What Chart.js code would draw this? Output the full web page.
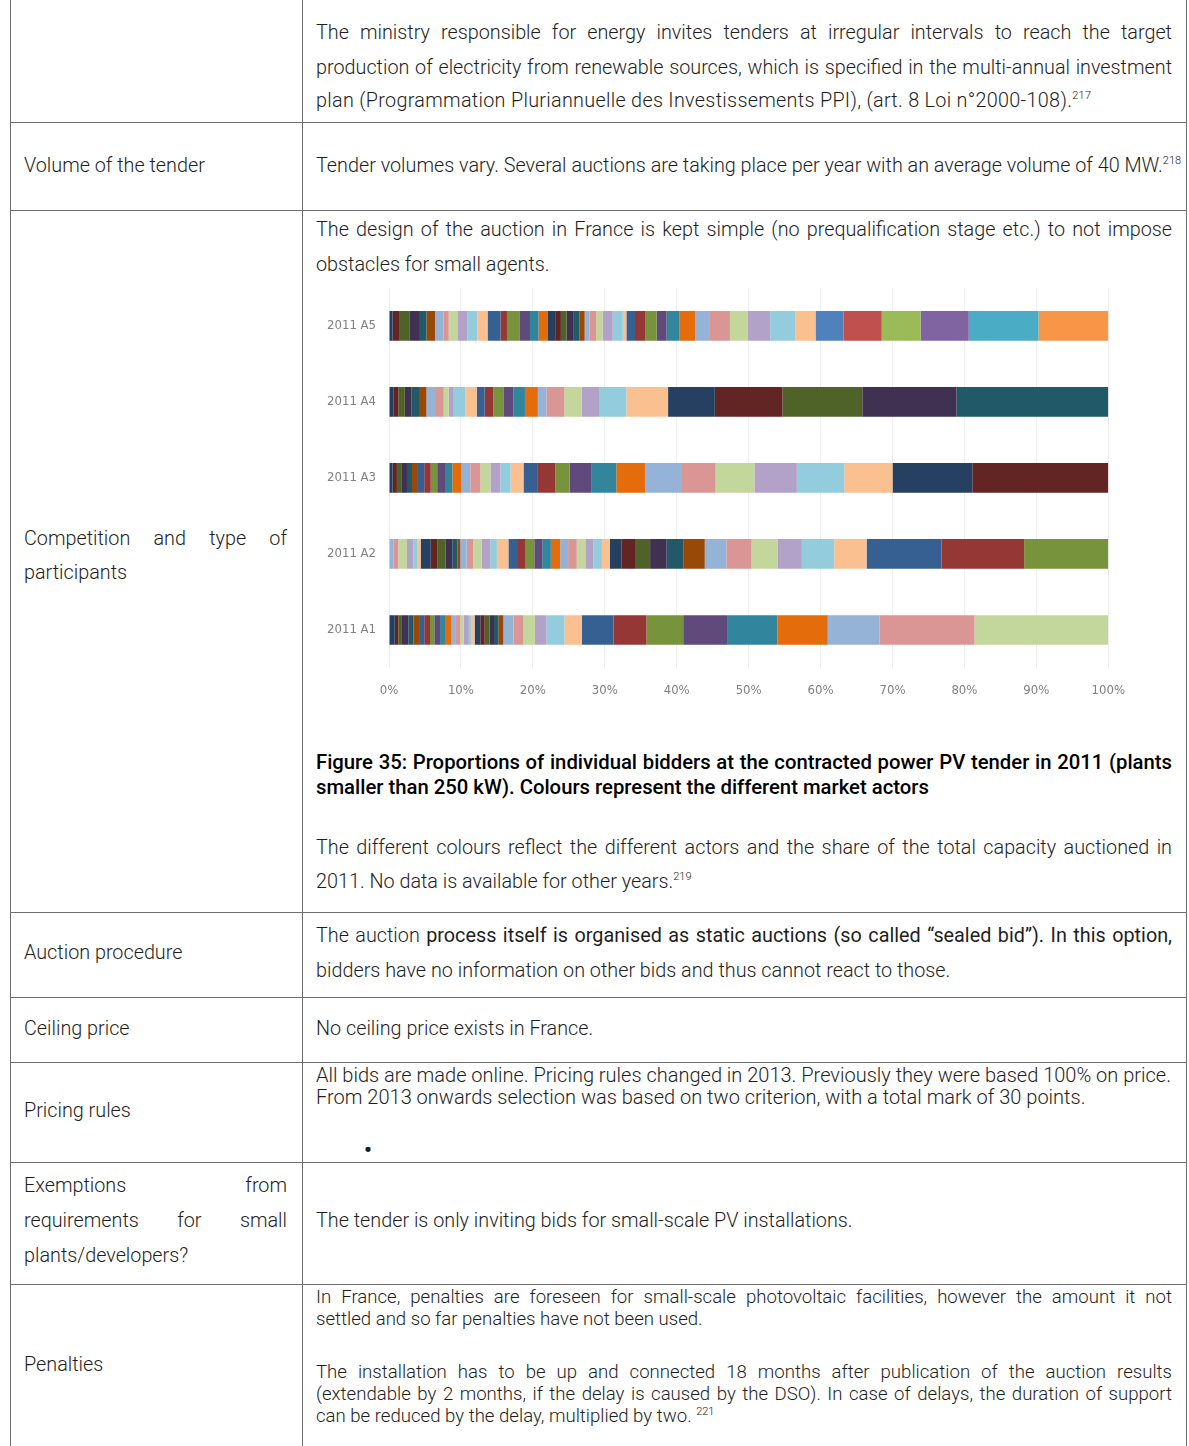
<!DOCTYPE html>
<html>
<head>
<meta charset="utf-8">
<script src="https://cdn.jsdelivr.net/npm/chart.js@4.4.1/dist/chart.umd.min.js"></script>
<style>
  body { margin: 0; width: 1189px; height: 1446px; overflow: hidden; background: #fff;
         font-family: Roboto, "Open Sans", sans-serif; font-weight: 300; color: #1e1e1e; }
  .hl { position: absolute; left: 10px; width: 1176px; height: 1px; background: #6e6e6e; }
  .vl { position: absolute; top: 0; width: 1px; height: 1446px; background: #6e6e6e; }
  .ln { position: absolute; left: 316px; width: 856px; height: 26px; line-height: 26px;
        font-size: 19.8px; white-space: nowrap; }
  .j { white-space: normal; text-align: justify; text-align-last: justify; }
  .sm { font-size: 18.6px; }
  .pr { font-size: 20px; }
  .lab { position: absolute; left: 24px; width: 263px; height: 26px; line-height: 26px;
         font-size: 19.8px; white-space: nowrap; }
  .cap { font-weight: 500; font-size: 20.3px; color: #000; }
  sup { font-size: 11px; line-height: 0; }
  #chartBox { position: absolute; left: 320px; top: 267px; width: 820px; height: 443px; }
</style>
</head>
<body>
<div class="vl" style="left:10px"></div>
<div class="vl" style="left:302px"></div>
<div class="vl" style="left:1186px"></div>
<div class="hl" style="top:122px"></div>
<div class="hl" style="top:210px"></div>
<div class="hl" style="top:912px"></div>
<div class="hl" style="top:997px"></div>
<div class="hl" style="top:1062px"></div>
<div class="hl" style="top:1162px"></div>
<div class="hl" style="top:1284px"></div>

<!-- row 1 -->
<div class="ln j" style="top:20px">The ministry responsible for energy invites tenders at irregular intervals to reach the target</div>
<div class="ln j" style="top:55px">production of electricity from renewable sources, which is specified in the multi-annual investment</div>
<div class="ln" style="top:88px;letter-spacing:0.3px">plan (Programmation Pluriannuelle des Investissements PPI), (art. 8 Loi n°2000-108).<sup>217</sup></div>

<!-- row 2 -->
<div class="lab" style="top:153px">Volume of the tender</div>
<div class="ln" style="top:153px">Tender volumes vary. Several auctions are taking place per year with an average volume of 40 MW.<sup>218</sup></div>

<!-- row 3 -->
<div class="lab j" style="top:526px">Competition and type of</div>
<div class="lab" style="top:560px">participants</div>
<div class="ln j" style="top:217px">The design of the auction in France is kept simple (no prequalification stage etc.) to not impose</div>
<div class="ln" style="top:252px">obstacles for small agents.</div>
<div id="chartBox"><canvas id="bidders" width="820" height="443"></canvas></div>
<div class="ln j cap" style="top:749px">Figure 35: Proportions of individual bidders at the contracted power PV tender in 2011 (plants</div>
<div class="ln cap" style="top:774px">smaller than 250 kW). Colours represent the different market actors</div>
<div class="ln j" style="top:835px">The different colours reflect the different actors and the share of the total capacity auctioned in</div>
<div class="ln" style="top:869px">2011. No data is available for other years.<sup>219</sup></div>

<!-- row 4 -->
<div class="lab" style="top:940px">Auction procedure</div>
<div class="ln j" style="top:923px">The auction <span style="font-weight:400">process itself is organised as static auctions (so called “sealed bid”). In this option,</span></div>
<div class="ln" style="top:958px">bidders have no information on other bids and thus cannot react to those.</div>

<!-- row 5 -->
<div class="lab" style="top:1016px">Ceiling price</div>
<div class="ln" style="top:1016px">No ceiling price exists in France.</div>

<!-- row 6 -->
<div class="lab" style="top:1098px">Pricing rules</div>
<div class="ln pr" style="top:1062px">All bids are made online. Pricing rules changed in 2013. Previously they were based 100% on price.</div>
<div class="ln pr" style="top:1084px">From 2013 onwards selection was based on two criterion, with a total mark of 30 points.</div>
<div class="ln" style="top:1137px;left:364px;font-size:22px;font-weight:700">•</div>

<!-- row 7 -->
<div class="lab j" style="top:1173px">Exemptions from</div>
<div class="lab j" style="top:1208px">requirements for small</div>
<div class="lab" style="top:1243px">plants/developers?</div>
<div class="ln" style="top:1208px">The tender is only inviting bids for small-scale PV installations.</div>

<!-- row 8 -->
<div class="lab" style="top:1352px">Penalties</div>
<div class="ln sm j" style="top:1284px">In France, penalties are foreseen for small-scale photovoltaic facilities, however the amount it not</div>
<div class="ln sm" style="top:1306px">settled and so far penalties have not been used.</div>
<div class="ln sm j" style="top:1359px">The installation has to be up and connected 18 months after publication of the auction results</div>
<div class="ln sm j" style="top:1381px">(extendable by 2 months, if the delay is caused by the DSO). In case of delays, the duration of support</div>
<div class="ln sm" style="top:1403px">can be reduced by the delay, multiplied by two. <sup>221</sup></div>

<script>
// Tender rounds (top to bottom)
const categories = ["2011 A5", "2011 A4", "2011 A3", "2011 A2", "2011 A1"];

// Share of contracted power per bidder, % (left to right within each bar)
const a5Shares = [0.5, 1.0, 1.4, 1.4, 0.9, 1.2, 1.2, 0.7, 1.2, 1.4, 1.4, 1.4,
  1.8, 0.9, 1.8, 1.4, 1.2, 1.3, 1.0, 0.8, 0.8, 0.9, 0.9, 0.7,
  0.7, 0.9, 0.9, 1.4, 1.4, 0.5, 1.2, 1.4, 1.6, 1.4, 1.8, 2.2,
  1.9, 2.9, 2.5, 3.1, 3.5, 2.8, 3.9, 5.3, 5.4, 6.7, 9.7, 9.7];
const a4Shares = [0.6, 0.7, 0.9, 0.9, 1.2, 0.9, 1.2, 1.2, 0.7, 0.7, 1.6, 1.6,
  1.1, 1.2, 1.4, 1.4, 1.6, 1.8, 1.2, 2.5, 2.4, 2.5, 3.7, 5.8,
  6.5, 9.4, 11.1, 13.1, 21.1];
const a3Shares = [0.5, 0.6, 0.6, 0.8, 0.7, 0.7, 1.0, 0.9, 0.9, 1.2, 0.9, 1.3,
  1.2, 1.4, 1.4, 1.4, 1.4, 1.8, 2.0, 2.4, 2.0, 3.0, 3.5, 4.0,
  5.0, 4.8, 5.4, 5.9, 6.6, 6.7, 11.1, 18.9];
const a2Shares = [0.6, 0.7, 1.2, 0.9, 0.5, 0.5, 1.4, 0.9, 1.2, 0.9, 0.7, 0.4,
  0.9, 0.9, 1.2, 1.2, 0.9, 1.6, 1.2, 1.2, 1.2, 1.1, 1.2, 1.3,
  1.1, 1.2, 1.2, 1.1, 1.2, 1.1, 1.6, 1.9, 2.1, 2.3, 2.3, 3.0,
  3.0, 3.5, 3.6, 3.4, 4.5, 4.5, 10.4, 11.5, 11.7];
const a1Shares = [0.8, 0.5, 0.5, 0.9, 0.7, 0.9, 0.6, 0.8, 0.6, 0.8, 0.8, 0.8,
  0.5, 0.7, 0.5, 0.7, 0.4, 0.4, 0.8, 0.6, 0.7, 0.6, 0.6, 0.7,
  1.4, 1.4, 1.6, 1.6, 2.5, 2.4, 4.4, 4.6, 5.1, 6.2, 6.9, 7.0,
  7.2, 13.2, 18.6];

const tickLabels = ["0%", "10%", "20%", "30%", "40%", "50%", "60%", "70%", "80%", "90%", "100%"];

// Office-style colour cycle: 6 hues, shade changes every 6 bidders
const shades = {
  base:  ["#4F81BD", "#C0504D", "#9BBB59", "#8064A2", "#4BACC6", "#F79646"],
  light: ["#95B3D7", "#D99694", "#C3D69B", "#B3A2C7", "#93CDDD", "#FAC090"],
  mid:   ["#376092", "#953735", "#77933C", "#604A7B", "#31859C", "#E46C0A"],
  dark:  ["#254061", "#632523", "#4F6228", "#403152", "#215968", "#984807"]
};
const shadeBlocks = [
  ["dark", "light", "mid", "dark", "light", "mid", "light", "base"],
  ["dark", "light", "mid", "light", "dark"],
  ["dark", "mid", "light", "mid", "light", "dark"],
  ["light", "dark", "light", "mid", "light", "dark", "light", "mid"],
  ["dark", "mid", "light", "dark", "light", "mid", "light"]
];

const allShares = [a5Shares, a4Shares, a3Shares, a2Shares, a1Shares];
const maxBidders = Math.max(...allShares.map(s => s.length));

const datasets = [];
for (let j = 0; j < maxBidders; j++) {
  datasets.push({
    data: allShares.map(s => (j < s.length ? s[j] : 0)),
    backgroundColor: allShares.map((s, i) => {
      const block = shadeBlocks[i][Math.floor(j / 6)] || "base";
      return shades[block][j % 6];
    }),
    borderWidth: 0,
    categoryPercentage: 1,
    barPercentage: 0.39
  });
}

const tickFont = { family: "'Liberation Sans Narrow', 'DejaVu Sans Condensed', sans-serif", size: 13 };

const ctx = document.getElementById("bidders").getContext("2d");
new Chart(ctx, {
  type: "bar",
  data: { labels: categories, datasets: datasets },
  options: {
    indexAxis: "y",
    responsive: false,
    animation: false,
    layout: { padding: { top: 6, right: 30, left: 0, bottom: 0 } },
    plugins: { legend: { display: false }, tooltip: { enabled: false } },
    scales: {
      x: {
        stacked: true,
        min: 0,
        max: 100,
        afterFit: (scale) => { scale.height = 42; },
        grid: { color: "#eeeeee", drawTicks: false },
        border: { display: false },
        ticks: {
          stepSize: 10,
          padding: 15,
          color: "#808080",
          font: tickFont,
          callback: (v, i) => tickLabels[i]
        }
      },
      y: {
        stacked: true,
        afterFit: (scale) => { scale.width = 69; },
        grid: { display: false, drawTicks: false },
        border: { display: false },
        ticks: { padding: 13, color: "#808080", font: tickFont }
      }
    }
  }
});
</script>
</body>
</html>
